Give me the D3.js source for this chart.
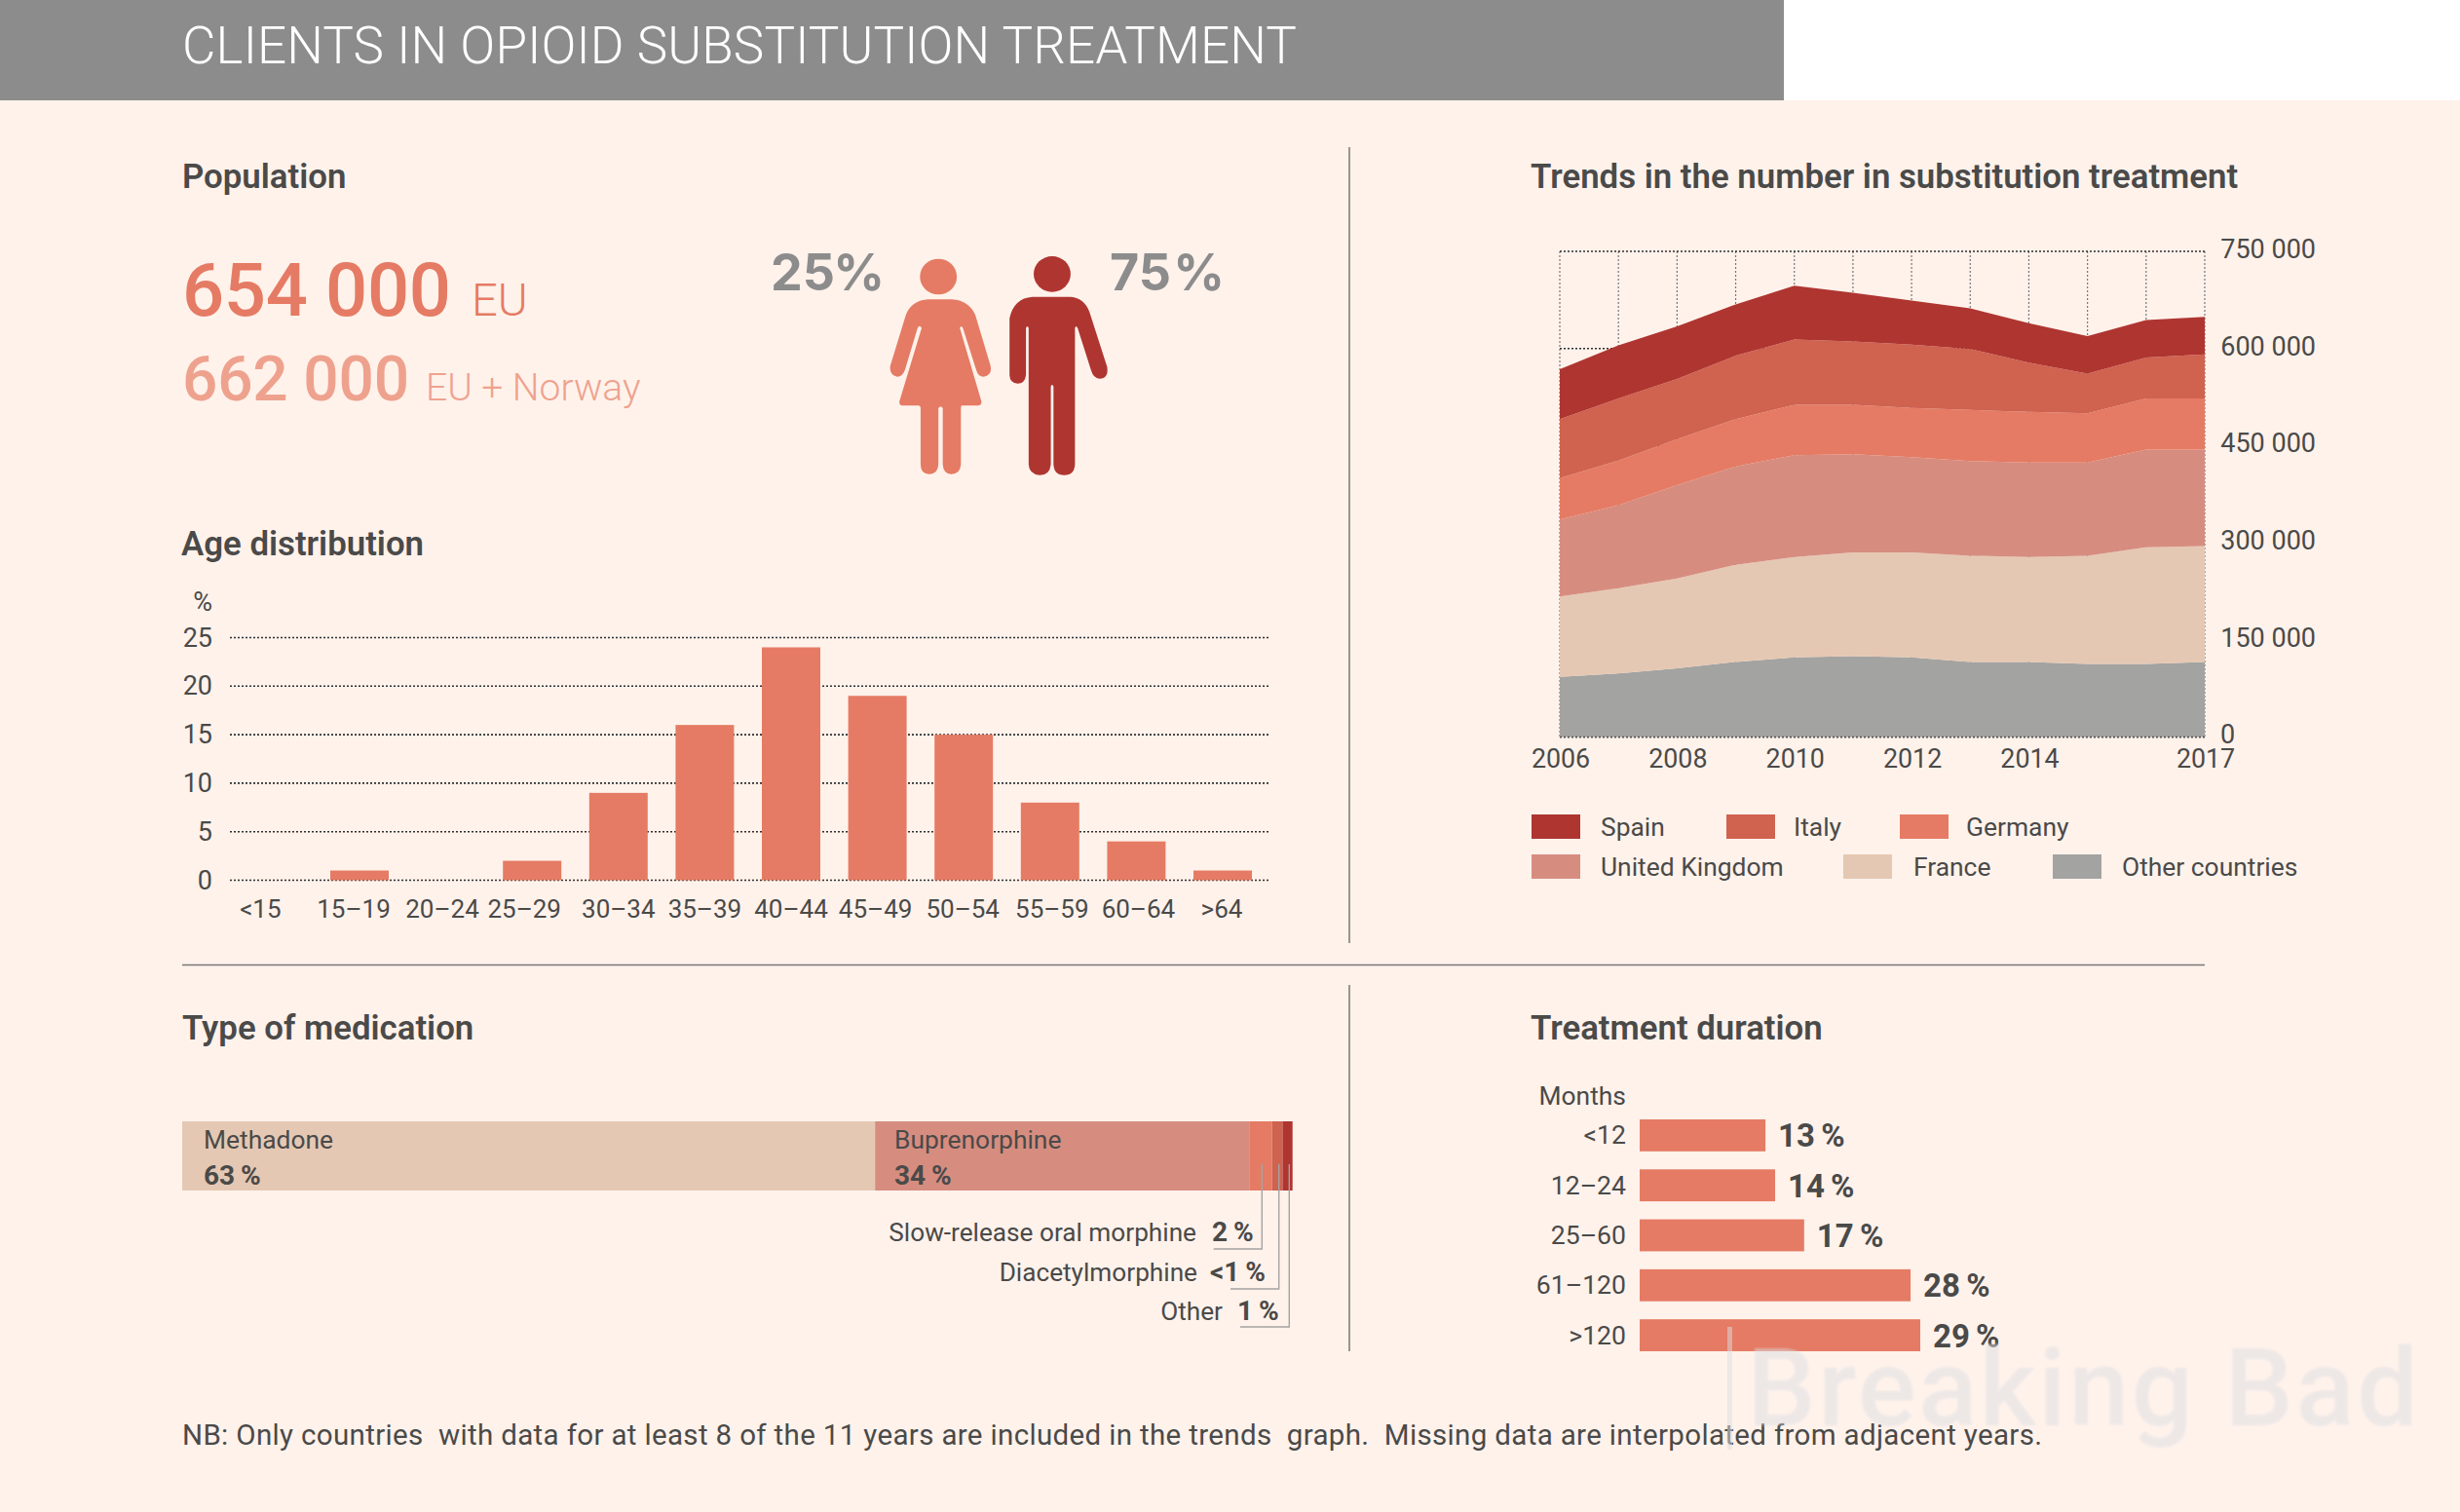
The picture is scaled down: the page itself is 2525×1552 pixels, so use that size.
<!DOCTYPE html>
<html><head><meta charset="utf-8">
<script src="https://cdn.jsdelivr.net/npm/d3@7"></script>
<style>html,body{margin:0;padding:0;background:#fff2eb}svg{display:block}text{font-family:Roboto,sans-serif;fill:#4a4a49}</style>
</head><body><div id="c"></div>
<script>
// ---- data ----
const ageCategories=["<15","15–19","20–24","25–29","30–34","35–39","40–44","45–49","50–54","55–59","60–64",">64"];
const ageValues=[0,1,0,2,9,16,24,19,15,8,4,1];
const ageTicks=[0,5,10,15,20,25];
const years=[2006,2007,2008,2009,2010,2011,2012,2013,2014,2015,2016,2017];
const yearLabels=[2006,2008,2010,2012,2014,2017];
const trendTicks=[0,150000,300000,450000,600000,750000];
const seriesNames=["Other countries","France","United Kingdom","Germany","Italy","Spain"];
const otherCountries=[93000,98000,106000,116000,123000,125000,123000,116000,116000,113000,113000,116000];
const france=[124000,132000,139000,150000,155000,160000,162000,164000,162000,167000,180000,179000];
const unitedKingdom=[119000,128000,144000,152000,157000,151500,147000,146000,146000,144000,151000,149000];
const germany=[64000,69000,71000,73000,78000,76500,76000,79000,78000,76000,79000,79000];
const italy=[91000,96000,93000,98000,101000,98000,98000,94000,76000,61000,63000,68000];
const spain=[77000,82000,81000,79000,83000,75000,68000,63000,61000,58000,58000,58000];
const seriesColors=["#a3a3a1","#e5c8b3","#d68d80","#e57b64","#d06250","#af3530"];
const medNames=["Methadone","Buprenorphine","Slow-release oral morphine","Diacetylmorphine","Other"];
const medLabels=["63 %","34 %","2 %","<1 %","1 %"];
const medValues=[62.4,33.7,2.05,0.95,0.9];
const medColors=["#e5c8b3","#d68d80","#e57b64","#d06250","#af3530"];
const durCategories=["<12","12–24","25–60","61–120",">120"];
const durValues=[13,14,17,28,29];
const genderLabels=["25 %","75 %"];
const BG="#fff2eb",TXT="#4a4a49",CORAL="#e57b64",PALE="#eea28e";

const svg=d3.select("#c").append("svg").attr("width",2525).attr("height",1552);
svg.append("rect").attr("width",2525).attr("height",1552).attr("fill",BG);
svg.append("rect").attr("x",1831).attr("width",694).attr("height",103).attr("fill","#fff");
svg.append("rect").attr("width",1831).attr("height",103).attr("fill","#8c8c8c");
function T(x,y,s,size,o={}){const t=svg.append("text").attr("x",x).attr("y",y).text(s).attr("font-size",size)
  .attr("font-weight",o.w||400).attr("text-anchor",o.a||"start").style("fill",o.f||TXT);
  if(o.len)t.attr("textLength",o.len);
  if(o.ws!==undefined)t.style("word-spacing",o.ws+"px");
  if(o.fam)t.style("font-family",o.fam);
  return t;}
T(187,65,"CLIENTS IN OPIOID SUBSTITUTION TREATMENT",53,{f:"#fff",w:300,len:1144});
// dividers
const rule=(a,b,c,d)=>svg.append("line").attr("x1",a).attr("y1",b).attr("x2",c).attr("y2",d).attr("stroke","#777776").attr("stroke-width",1.5);
rule(1385,151,1385,968);rule(187,990.5,2263,990.5);rule(1385,1011,1385,1387);
// headings
[[187,193,"Population"],[186,570,"Age distribution"],[187,1067,"Type of medication"],[1571,1067,"Treatment duration"],[1571,193,"Trends in the number in substitution treatment"]]
 .forEach(d=>T(d[0],d[1],d[2],34.8,{w:600}));
// population
T(187,324,"654 000",76,{w:500,f:CORAL,len:276});T(484,324,"EU",47,{w:300,f:CORAL});
T(187,410.5,"662 000",64,{w:500,f:PALE,len:233});T(437,410.5,"EU + Norway",39,{w:300,f:PALE});
T(791,298,genderLabels[0],52,{w:700,f:"#8c8c8c",ws:-14,fam:"Inter"});
T(1139,298,genderLabels[1],52,{w:700,f:"#8c8c8c",ws:-10,fam:"Inter"});
const icon=svg.append("g").attr("transform","translate(760,220) scale(0.3444,0.3333)");
icon.append("ellipse").attr("cx",590).attr("cy",192).attr("rx",55).attr("ry",55).attr("fill",CORAL);
icon.append("ellipse").attr("cx",929).attr("cy",184).attr("rx",55).attr("ry",55).attr("fill","#af3530");
icon.append("path").attr("fill",CORAL).attr("d","M560,262L630,262Q680,265 700,310L745,465Q752,495 725,500Q708,500 703,480L663,350Q658,340 654,350L718,575Q720,588 708,589L660,589Q657,590 657,597L657,770Q655,800 628,800Q605,800 603,770L603,597Q597,586 590,597L590,770Q588,800 563,800Q537,800 537,770L537,597Q537,589 530,589L482,589Q472,588 474,575L540,350Q534,338 528,350L490,480Q483,500 467,500Q442,495 447,465L493,310Q510,265 560,262Z");
icon.append("path").attr("fill","#af3530").attr("d","M870,254L985,254Q1025,258 1040,300L1093,470Q1098,505 1070,506Q1052,505 1045,480L1005,350Q1000,340 997,350L997,770Q995,803 965,803Q935,803 933,770L933,530Q929,520 925,530L925,770Q922,803 892,803Q860,800 859,770L859,350Q855,340 851,350L851,495Q848,521 826,521Q803,520 802,495L802,320Q815,258 870,254Z");

// age chart
const ax=d3.scaleBand().domain(ageCategories).range([250.4,1285]).paddingInner(0.323).paddingOuter(0);
const ay=d3.scaleLinear().domain([0,25]).range([903.5,654.5]);
const nudge=[-13,-6,-3.6,-8,0,0,0,-2,-1,2,2,-1];
const ag=svg.append("g");
ag.selectAll("line").data(ageTicks).join("line").attr("x1",236).attr("x2",1302).attr("y1",d=>ay(d)).attr("y2",d=>ay(d))
 .attr("stroke","#2f2f2f").attr("stroke-width",1.6).attr("stroke-dasharray","2 2");
ag.selectAll("rect").data(ageValues).join("rect").attr("x",(d,i)=>ax(ageCategories[i])).attr("width",ax.bandwidth())
 .attr("y",d=>ay(d)).attr("height",d=>ay(0)-ay(d)).attr("fill",CORAL);
ageTicks.forEach(t=>T(218,ay(t)+9,t,27,{a:"end"}));
T(218,627,"%",27,{a:"end"});
ageCategories.forEach((c,i)=>T(ax(c)+ax.bandwidth()/2+nudge[i],942,c,26,{a:"middle"}));

// trends
const tx=d3.scaleLinear().domain([2006,2017]).range([1601,2263]);
const ty=d3.scaleLinear().domain([0,750000]).range([756.5,258]);
const rows=years.map((y,i)=>({year:y,"Other countries":otherCountries[i],"France":france[i],"United Kingdom":unitedKingdom[i],"Germany":germany[i],"Italy":italy[i],"Spain":spain[i]}));
const stack=d3.stack().keys(seriesNames)(rows);
const tg=svg.append("g");
tg.selectAll(".v").data(years).join("line").attr("class","v").attr("x1",d=>tx(d)).attr("x2",d=>tx(d)).attr("y1",ty(750000)).attr("y2",ty(0))
 .attr("stroke","#777").attr("stroke-width",1.2).attr("stroke-dasharray","2 2");
tg.selectAll(".h").data(trendTicks).join("line").attr("class","h").attr("x1",tx(2006)).attr("x2",tx(2017)).attr("y1",d=>ty(d)).attr("y2",d=>ty(d))
 .attr("stroke","#2f2f2f").attr("stroke-width",1.5).attr("stroke-dasharray","2 2");
const area=d3.area().x(d=>tx(d.data.year)).y0(d=>ty(d[0])).y1(d=>ty(d[1]));
tg.selectAll("path").data(stack).join("path").attr("d",area).attr("fill",(d,i)=>seriesColors[i]);
tg.append("line").attr("x1",tx(2006)).attr("x2",tx(2017)).attr("y1",ty(0)).attr("y2",ty(0)).attr("stroke","#555").attr("stroke-width",1.5).attr("stroke-dasharray","2 2");
trendTicks.forEach(t=>{ if(t===0) T(2279,ty(t)+6,"0",27); else T(2377,ty(t)+7,d3.format(",")(t).replace(/,/g," "),27,{a:"end"});});
yearLabels.forEach(y=>T(tx(y)+1,788,y,26.8,{a:"middle"}));
// legend
[["Spain",5,1572,1643,0],["Italy",4,1772,1841,0],["Germany",3,1950,2018,0],["United Kingdom",2,1572,1643,1],["France",1,1892,1964,1],["Other countries",0,2107,2178,1]].forEach(d=>{
  svg.append("rect").attr("x",d[2]).attr("y",d[4]?877:836).attr("width",50).attr("height",25).attr("fill",seriesColors[d[1]]);
  T(d[3],d[4]?899:858,d[0],26.4);
});

// medication
const mx=d3.scaleLinear().domain([0,100]).range([187,1326.7]);
let acc=0;const medStart=medValues.map(v=>{const s=acc;acc+=v;return s;});
svg.append("g").selectAll("rect").data(medValues).join("rect").attr("x",(d,i)=>mx(medStart[i])).attr("width",(d,i)=>mx(d)-mx(0))
 .attr("y",1151).attr("height",71).attr("fill",(d,i)=>medColors[i]);
T(209,1179,medNames[0],26.4);T(209,1216,medLabels[0],28,{w:700,ws:-1});
T(918,1179,medNames[1],26.4);T(918,1216,medLabels[1],28,{w:700,ws:-1});
[[2,1295.3,1282,1245.7,1228,1244,1274],[3,1312.7,1323,1263,1229,1242,1315],[4,1323.3,1362,1273,1255,1270,1355]].forEach(d=>{
  svg.append("path").attr("d",`M${d[1]},1195V${d[2]}H${d[3]}`).attr("fill","none").attr("stroke","#a5a3a1").attr("stroke-width",1.4);
  T(d[4],d[6],medNames[d[0]],26.2,{a:"end"});T(d[5],d[6],medLabels[d[0]],28,{w:700,ws:-1});
});

// duration
const dx=d3.scaleLinear().domain([0,29]).range([1683,1971]);
const dy=d3.scaleBand().domain(durCategories).range([1149,1387]).paddingInner(0.36).paddingOuter(0);
T(1669,1134,"Months",26.4,{a:"end"});
svg.append("g").selectAll("rect").data(durValues).join("rect").attr("x",dx(0)).attr("y",(d,i)=>dy(durCategories[i])).attr("width",d=>dx(d)-dx(0)).attr("height",dy.bandwidth()).attr("fill",CORAL);
durCategories.forEach((c,i)=>{const m=dy(c)+dy.bandwidth()/2+9;T(1669,m,c,26.6,{a:"end"});T(dx(durValues[i])+13,m+3,durValues[i]+" %",33,{w:700,ws:-2});});

// note + watermark
T(187,1483,"NB: Only countries  with data for at least 8 of the 11 years are included in the trends  graph.  Missing data are interpolated from adjacent years.",29.5,{len:1909}).style("white-space","pre");
const defs=svg.append("defs");
defs.append("filter").attr("id","soft").append("feGaussianBlur").attr("stdDeviation",0.9);
T(1793,1463,"Breaking Bad",112,{w:500,f:"#dcdfe3",len:689}).style("opacity",.5).attr("filter","url(#soft)");
svg.append("line").attr("x1",1775.5).attr("x2",1775.5).attr("y1",1362).attr("y2",1488).attr("stroke","#dcdfe3").attr("stroke-width",5).attr("opacity",.5);
</script></body></html>
